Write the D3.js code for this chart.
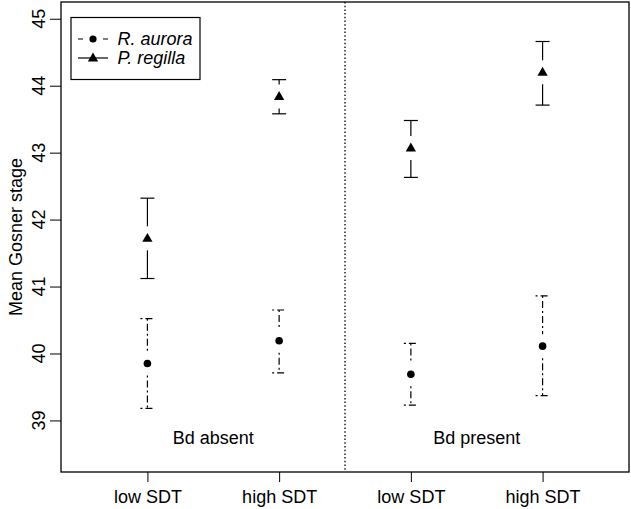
<!DOCTYPE html>
<meta charset="utf-8">
<script src="https://d3js.org/d3.v7.min.js"></script>
<style>
  body { margin: 0; background: #fff; }
  text { font-family: "Liberation Sans", Arial, sans-serif; fill: #000; }
</style>
<div id="page"></div>
<script>
  // Data
  var groups = ["absent-low", "absent-high", "present-low", "present-high"];
  var tickLabels = ["low SDT", "high SDT", "low SDT", "high SDT"];
  var yTicks = [39, 40, 41, 42, 43, 44, 45];

  var auroraMean = [39.85, 40.19, 39.69, 40.11];
  var auroraLow  = [39.18, 39.71, 39.23, 39.37];
  var auroraHigh = [40.52, 40.65, 40.15, 40.86];

  var regillaMean = [41.72, 43.84, 43.07, 44.20];
  var regillaLow  = [41.12, 43.58, 42.63, 43.71];
  var regillaHigh = [42.32, 44.09, 43.48, 44.66];

  var width = 631, height = 509;
  var plotL = 61, plotR = 629, plotT = 2, plotB = 472;
  var fs = 18;

  var svg = d3.select("#page").append("svg")
    .attr("width", width)
    .attr("height", height);

  var x = d3.scalePoint()
    .domain(groups)
    .range([plotL, plotR])
    .padding(0.656);

  var y = d3.scaleLinear()
    .domain([38.23, 45.25])
    .range([plotB, plotT]);

  // y axis ticks, labels rotated like R's
  svg.append("g")
    .attr("transform", "translate(" + plotL + ",0)")
    .call(d3.axisLeft(y).tickValues(yTicks).tickSize(11).tickFormat(""))
    .call(function (g) {
      g.select(".domain").remove();
      g.selectAll("line").attr("stroke", "#000");
    });
  svg.append("g").selectAll("text")
    .data(yTicks)
    .enter().append("text")
    .attr("transform", function (d) { return "translate(45," + y(d) + ") rotate(-90)"; })
    .attr("text-anchor", "middle")
    .attr("font-size", fs)
    .text(function (d) { return d; });

  svg.append("g")
    .attr("transform", "translate(0," + plotB + ")")
    .call(d3.axisBottom(x).tickSize(10).tickPadding(6).tickFormat(function (d, i) { return tickLabels[i]; }))
    .call(function (g) {
      g.select(".domain").remove();
      g.selectAll("line").attr("stroke", "#000");
      g.selectAll("text")
        .attr("font-size", fs)
        .attr("font-family", "Liberation Sans, Arial, sans-serif")
        .attr("dy", null)
        .attr("y", 31);
    });

  // box
  svg.append("rect")
    .attr("x", plotL).attr("y", plotT)
    .attr("width", plotR - plotL).attr("height", plotB - plotT)
    .attr("fill", "none").attr("stroke", "#000").attr("stroke-width", 1.3);

  // divider
  var mid = (x(groups[1]) + x(groups[2])) / 2;
  svg.append("line")
    .attr("x1", mid).attr("x2", mid)
    .attr("y1", plotT).attr("y2", plotB)
    .attr("stroke", "#000")
    .attr("stroke-width", 1.3)
    .attr("stroke-dasharray", "1.5,2.2");

  // y title
  svg.append("text")
    .attr("transform", "translate(22," + (plotT + plotB) / 2 + ") rotate(-90)")
    .attr("text-anchor", "middle")
    .attr("font-size", fs)
    .text("Mean Gosner stage");

  // panel labels
  svg.append("text")
    .attr("x", (x(groups[0]) + x(groups[1])) / 2)
    .attr("y", 444)
    .attr("text-anchor", "middle")
    .attr("font-size", fs)
    .text("Bd absent");
  svg.append("text")
    .attr("x", (x(groups[2]) + x(groups[3])) / 2)
    .attr("y", 444)
    .attr("text-anchor", "middle")
    .attr("font-size", fs)
    .text("Bd present");

  var dotdash = "2,3,7,3";
  var gap = 12, cap = 7;

  function errorBars(mean, lo, hi, dash) {
    var g = svg.append("g").attr("stroke", "#000").attr("stroke-width", 1.2).attr("fill", "none");
    groups.forEach(function (k, i) {
      var cx = x(k), cy = y(mean[i]);
      var yl = y(lo[i]), yh = y(hi[i]);
      g.append("line").attr("x1", cx).attr("x2", cx).attr("y1", yh).attr("y2", cy - gap).attr("stroke-dasharray", dash);
      g.append("line").attr("x1", cx).attr("x2", cx).attr("y1", cy + gap).attr("y2", yl).attr("stroke-dasharray", dash);
      g.append("line").attr("x1", cx - cap).attr("x2", cx + cap).attr("y1", yh).attr("y2", yh).attr("stroke-dasharray", dash);
      g.append("line").attr("x1", cx - cap).attr("x2", cx + cap).attr("y1", yl).attr("y2", yl).attr("stroke-dasharray", dash);
    });
  }

  errorBars(auroraMean, auroraLow, auroraHigh, dotdash);
  errorBars(regillaMean, regillaLow, regillaHigh, null);

  svg.append("g").selectAll("circle")
    .data(auroraMean)
    .enter().append("circle")
    .attr("cx", function (d, i) { return x(groups[i]); })
    .attr("cy", function (d) { return y(d); })
    .attr("r", 3.8)
    .attr("fill", "#000");

  var tri = d3.symbol().type(d3.symbolTriangle).size(46);
  svg.append("g").selectAll("path")
    .data(regillaMean)
    .enter().append("path")
    .attr("d", tri)
    .attr("transform", function (d, i) { return "translate(" + x(groups[i]) + "," + (y(d) + 0.5) + ")"; })
    .attr("fill", "#000");

  // legend
  var lg = svg.append("g");
  lg.append("rect")
    .attr("x", 71).attr("y", 17.5)
    .attr("width", 129).attr("height", 62)
    .attr("fill", "#fff").attr("stroke", "#000").attr("stroke-width", 1.2);
  lg.append("line").attr("x1", 78).attr("x2", 108).attr("y1", 39).attr("y2", 39)
    .attr("stroke", "#000").attr("stroke-width", 1.2).attr("stroke-dasharray", "5,20,5");
  lg.append("circle").attr("cx", 93).attr("cy", 39).attr("r", 3.6).attr("fill", "#000");
  lg.append("line").attr("x1", 78).attr("x2", 108).attr("y1", 58).attr("y2", 58)
    .attr("stroke", "#000").attr("stroke-width", 1.2);
  lg.append("path").attr("d", tri).attr("transform", "translate(93,58.5)").attr("fill", "#000");
  lg.append("text").attr("x", 117.5).attr("y", 45).attr("font-size", fs).attr("font-style", "italic").text("R. aurora");
  lg.append("text").attr("x", 117.5).attr("y", 64).attr("font-size", fs).attr("font-style", "italic").text("P. regilla");
</script>
